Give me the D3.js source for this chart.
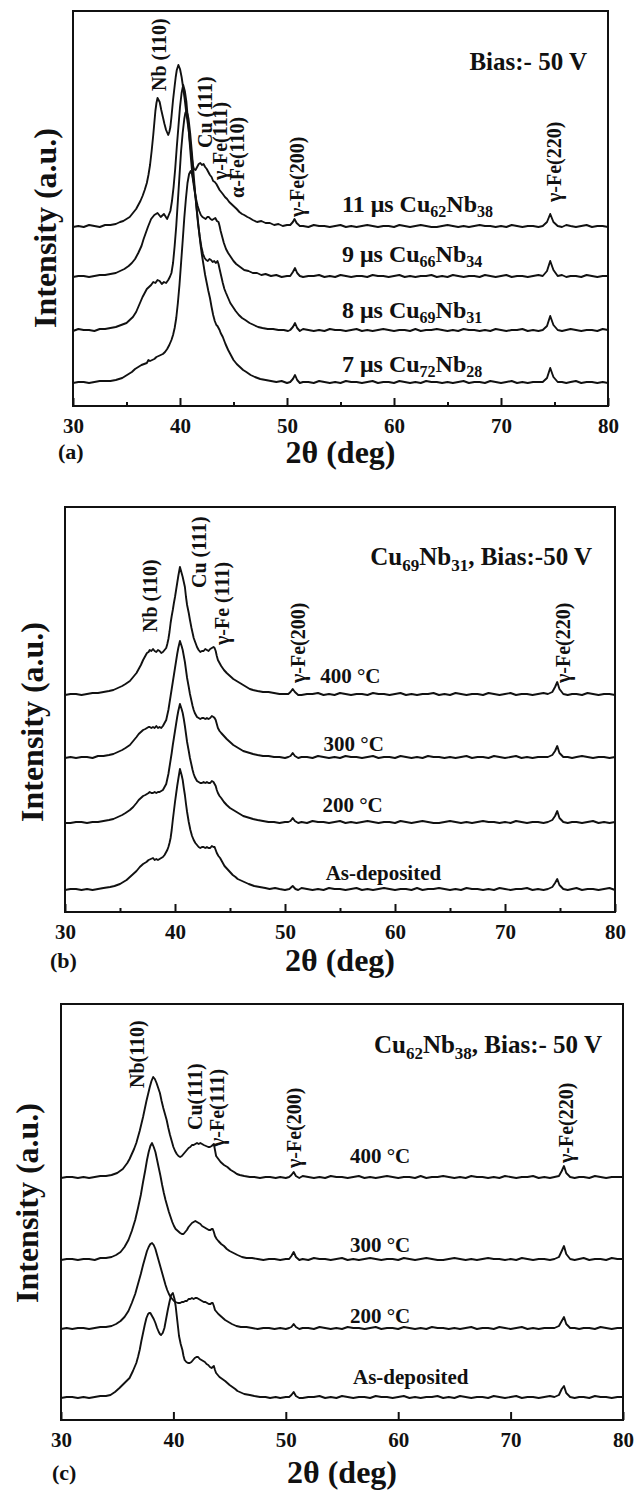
<!DOCTYPE html>
<html>
<head>
<meta charset="utf-8">
<script src="https://cdn.jsdelivr.net/npm/d3@7"></script>
<style>
body { margin: 0; background: #fff; }
svg text { font-family: "Liberation Serif", "Times New Roman", serif; font-weight: bold; fill: #111; }
</style>
</head>
<body>
<svg id="chart" width="638" height="1490"></svg>
<script>
// x axis (2 theta, deg)
var xTicks = [30, 40, 50, 60, 70, 80];
var xMinor = [35, 45, 55, 65, 75];

// ---------- (a) pulse width series, bias -50 V ----------
var aNames = ["11 μs Cu_{62}Nb_{38}", "9 μs Cu_{66}Nb_{34}", "8 μs Cu_{69}Nb_{31}", "7 μs Cu_{72}Nb_{28}"];
var aOffsets = [179, 129, 75, 23];
var a11 = [[30,0],[30.5,1],[31,0],[31.5,2],[32,1],[32.5,0],[33,2],[33.5,2],[34,3],[34.4,5],[34.7,6],[35,8],[35.3,10],[35.6,14],[35.9,18],[36.1,22],[36.3,26],[36.5,31],[36.7,37],[36.9,44],[37.05,52],[37.2,62],[37.35,76],[37.5,92],[37.6,104],[37.7,116],[37.8,124],[37.9,129],[38.0,127],[38.1,125],[38.25,117],[38.4,110],[38.55,103],[38.7,97],[38.9,92],[39.0,95],[39.1,100],[39.2,110],[39.35,127],[39.5,141],[39.6,150],[39.7,157],[39.85,162],[40.0,158],[40.15,150],[40.3,139],[40.45,127],[40.6,113],[40.8,98],[40.95,83],[41.1,70],[41.2,62],[41.3,58],[41.45,57],[41.6,60],[41.75,63],[41.9,64],[42.05,62],[42.2,63],[42.35,60],[42.5,58],[42.65,55],[42.8,52],[42.95,50],[43.1,46],[43.25,45],[43.4,43],[43.55,40],[43.7,37],[43.85,35],[44.0,33],[44.2,30],[44.4,28],[44.6,25],[44.8,23],[45.0,21],[45.3,18],[45.55,15],[45.8,13],[46.0,12],[46.3,10],[46.5,9],[46.8,7],[47.2,5],[47.6,6],[48,4],[48.4,4],[48.8,2],[49.2,3],[49.6,1],[50,2],[50.3,2],[50.55,5],[50.7,8],[50.9,4],[51.2,1],
	[51.5,1],[52,0],[52.5,2],[53,1],[53.5,1],[54,0],[54.5,1],[55,2],[55.5,0],[56,1],[56.5,0],[57,1],[57.5,2],[58,1],[58.5,0],[59,1],[59.5,1],[60,0],[60.5,2],[61,1],[61.5,0],[62,1],[62.5,2],[63,1],[63.5,0],[64,0],[64.5,1],[65,2],[65.5,1],[66,0],[66.5,1],[67,0],[67.5,1],[68,2],[68.5,1],[69,1],[69.5,0],[70,1],[70.5,0],[71,2],[71.5,1],[72,0],[72.5,1],[73,1],[73.5,0],
	[73.9,1],[74.3,5],[74.6,13],[74.9,5],[75.3,1],[75.7,0],[76.1,2],[76.5,1],[77,0],[77.5,1],[78,2],[78.5,0],[79,1],[79.5,1],[80,0]];
var a9 = [[30,0],[30.5,1],[31,1],[31.5,0],[32,1],[32.5,2],[33,2],[33.5,3],[34,4],[34.4,6],[34.8,8],[35.2,11],[35.5,14],[35.8,18],[36.1,24],[36.4,31],[36.6,38],[36.8,44],[37.0,50],[37.3,58],[37.6,62],[37.9,64],[38.2,60],[38.5,63],[38.8,58],[39.1,66],[39.25,76],[39.4,90],[39.55,108],[39.7,130],[39.85,150],[40.0,170],[40.15,184],[40.3,192],[40.45,186],[40.6,175],[40.75,156],[40.9,135],[41.05,115],[41.2,98],[41.35,87],[41.5,78],[41.65,71],[41.8,66],[41.95,62],[42.1,60],[42.25,59],[42.4,58],[42.55,60],[42.7,60],[42.85,58],[43.0,57],[43.15,58],[43.3,59],[43.45,56],[43.6,55],[43.7,51],[43.8,46],[43.95,40],[44.1,34],[44.3,28],[44.5,24],[44.75,20],[45.0,16],[45.25,13],[45.5,11],[45.75,9],[46.0,7],[46.4,6],[46.8,4],[47.2,4],[47.6,2],[48,3],[48.5,1],[49,2],[49.5,0],[50,1],[50.3,1],[50.55,5],[50.75,9],[50.95,4],[51.2,1],
	[51.5,0],[52,1],[52.5,1],[53,2],[53.5,0],[54,1],[54.5,0],[55,2],[55.5,1],[56,0],[56.5,1],[57,1],[57.5,0],[58,2],[58.5,1],[59,1],[59.5,0],[60,1],[60.5,2],[61,0],[61.5,1],[62,0],[62.5,1],[63,1],[63.5,2],[64,0],[64.5,1],[65,0],[65.5,2],[66,1],[66.5,0],[67,1],[67.5,1],[68,0],[68.5,2],[69,1],[69.5,0],[70,1],[70.5,2],[71,0],[71.5,1],[72,1],[72.5,0],[73,1],[73.5,2],
	[73.9,1],[74.3,6],[74.6,16],[74.9,7],[75.3,1],[75.7,2],[76.1,0],[76.5,1],[77,1],[77.5,0],[78,2],[78.5,1],[79,0],[79.5,1],[80,1]];
var a8 = [[30,0],[30.5,2],[31,1],[31.5,1],[32,0],[32.5,2],[33,2],[33.5,3],[34,4],[34.5,6],[35,8],[35.3,11],[35.6,14],[35.9,19],[36.1,24],[36.3,29],[36.5,34],[36.7,38],[36.9,42],[37.1,44],[37.3,46],[37.5,49],[37.7,48],[37.9,51],[38.1,50],[38.3,47],[38.5,49],[38.7,48],[38.9,51],[39.05,54],[39.2,58],[39.35,68],[39.5,85],[39.65,105],[39.8,130],[39.95,155],[40.1,180],[40.25,198],[40.4,212],[40.5,218],[40.6,220],[40.7,217],[40.8,212],[40.95,198],[41.1,180],[41.25,160],[41.4,140],[41.55,122],[41.7,106],[41.85,94],[42.0,84],[42.15,77],[42.3,73],[42.45,71],[42.6,70],[42.75,72],[42.9,71],[43.05,69],[43.2,70],[43.35,68],[43.5,70],[43.6,67],[43.7,62],[43.85,55],[44.0,48],[44.15,42],[44.3,38],[44.5,33],[44.7,28],[44.95,24],[45.2,20],[45.5,16],[45.8,13],[46.1,11],[46.5,8],[46.9,6],[47.3,4],[47.7,3],[48.2,2],[48.7,2],[49.2,1],[49.7,1],[50.1,0],[50.3,1],[50.55,4],[50.75,8],[50.95,3],[51.2,0],
	[51.5,2],[52,1],[52.5,0],[53,1],[53.5,0],[54,2],[54.5,1],[55,1],[55.5,0],[56,1],[56.5,2],[57,0],[57.5,1],[58,0],[58.5,1],[59,2],[59.5,1],[60,0],[60.5,1],[61,1],[61.5,0],[62,2],[62.5,0],[63,1],[63.5,1],[64,2],[64.5,1],[65,0],[65.5,1],[66,0],[66.5,2],[67,1],[67.5,1],[68,0],[68.5,1],[69,0],[69.5,2],[70,1],[70.5,0],[71,1],[71.5,1],[72,2],[72.5,0],[73,1],[73.5,0],
	[73.9,1],[74.3,5],[74.6,15],[74.9,6],[75.3,1],[75.7,0],[76.1,1],[76.5,2],[77,1],[77.5,0],[78,1],[78.5,1],[79,0],[79.5,2],[80,1]];
var a7 = [[30,0],[30.5,1],[31,1],[31.5,0],[32,1],[32.5,2],[33,2],[33.5,2],[34,3],[34.3,4],[34.6,5],[34.9,7],[35.2,9],[35.5,11],[35.8,14],[36.1,16],[36.4,18],[36.65,19],[36.9,20],[37.05,23],[37.2,22],[37.4,23],[37.6,24],[37.8,26],[38.0,27],[38.2,28],[38.4,29],[38.6,31],[38.8,34],[39.0,38],[39.2,43],[39.35,48],[39.5,55],[39.65,65],[39.8,80],[39.95,98],[40.1,120],[40.25,142],[40.4,165],[40.55,184],[40.7,200],[40.85,209],[41.0,212],[41.15,208],[41.3,200],[41.45,186],[41.6,170],[41.75,155],[41.9,140],[42.05,128],[42.2,118],[42.35,108],[42.5,100],[42.65,92],[42.8,85],[42.95,76],[43.1,68],[43.25,62],[43.4,58],[43.5,57],[43.6,55],[43.7,53],[43.8,50],[44.0,46],[44.25,39],[44.5,33],[44.75,28],[45.0,23],[45.3,19],[45.6,16],[45.9,13],[46.2,11],[46.6,8],[47.0,6],[47.5,4],[48.0,3],[48.5,2],[49.0,1],[49.5,2],[50,0],[50.3,1],[50.55,4],[50.75,8],[50.95,3],[51.2,0],
	[51.5,1],[52,1],[52.5,0],[53,2],[53.5,1],[54,0],[54.5,1],[55,0],[55.5,2],[56,1],[56.5,1],[57,0],[57.5,1],[58,2],[58.5,0],[59,1],[59.5,1],[60,0],[60.5,2],[61,1],[61.5,0],[62,1],[62.5,0],[63,2],[63.5,1],[64,1],[64.5,0],[65,1],[65.5,0],[66,1],[66.5,2],[67,0],[67.5,1],[68,1],[68.5,0],[69,2],[69.5,1],[70,0],[70.5,1],[71,2],[71.5,0],[72,1],[72.5,0],[73,1],[73.5,1],
	[73.9,1],[74.3,5],[74.6,15],[74.9,6],[75.3,1],[75.7,1],[76.1,0],[76.5,1],[77,2],[77.5,0],[78,1],[78.5,1],[79,0],[79.5,1],[80,0]];
var aSeries = [a11, a9, a8, a7];
var aPeaks = ["Nb (110)", "Cu (111)", "γ-Fe(111)", "α-Fe(110)", "γ-Fe(200)", "γ-Fe(220)"];
var aTitle = "Bias:- 50 V";

// ---------- (b) Cu69Nb31 annealing ----------
var bNames = ["400 °C", "300 °C", "200 °C", "As-deposited"];
var bOffsets = [217, 154, 89, 22];
var b400 = [[30,0],[30.5,1],[31,1],[31.5,0],[32,1],[32.5,2],[33,2],[33.5,3],[34,4],[34.4,5],[34.8,7],[35.2,9],[35.5,11],[35.9,14],[36.2,18],[36.5,22],[36.7,26],[36.9,30],[37.1,35],[37.3,39],[37.45,42],[37.6,43],[37.7,45],[37.85,44],[38.0,46],[38.15,44],[38.3,43],[38.45,45],[38.6,44],[38.75,42],[38.9,43],[39.05,45],[39.2,47],[39.3,51],[39.4,56],[39.5,63],[39.6,72],[39.7,79],[39.8,85],[39.9,92],[40.0,98],[40.1,105],[40.2,112],[40.3,119],[40.45,128],[40.6,122],[40.7,118],[40.8,113],[40.9,108],[41.0,98],[41.1,90],[41.25,82],[41.36,75],[41.5,67],[41.6,62],[41.7,57],[41.8,54],[41.9,51],[42.0,48],[42.15,45],[42.3,43],[42.45,44],[42.6,44],[42.75,46],[42.9,45],[43.05,44],[43.2,46],[43.35,47],[43.5,48],[43.6,47],[43.7,44],[43.8,39],[43.9,35],[44.05,32],[44.2,29],[44.45,25],[44.7,22],[45.0,19],[45.3,16],[45.6,14],[45.9,12],[46.2,10],[46.5,8],[46.8,6],[47.1,5],[47.5,4],[48,3],[48.5,3],[49,2],[49.5,1],[50,1],[50.3,1],[50.5,3],[50.7,6],[50.9,3],[51.2,0],
	[51.5,0],[52,1],[52.5,1],[53,2],[53.5,0],[54,1],[54.5,0],[55,2],[55.5,1],[56,0],[56.5,1],[57,1],[57.5,0],[58,2],[58.5,1],[59,1],[59.5,0],[60,1],[60.5,2],[61,0],[61.5,1],[62,0],[62.5,1],[63,1],[63.5,2],[64,0],[64.5,1],[65,0],[65.5,2],[66,1],[66.5,0],[67,1],[67.5,1],[68,0],[68.5,2],[69,1],[69.5,0],[70,1],[70.5,2],[71,0],[71.5,1],[72,1],[72.5,0],[73,1],[73.5,2],
	[73.9,1],[74.3,3],[74.55,8],[74.75,13],[74.95,6],[75.3,1],[75.7,0],[76.1,1],[76.5,1],[77,0],[77.5,2],[78,1],[78.5,0],[79,1],[79.5,1],[80,0]];
var b300 = [[30,0],[30.5,1],[31,0],[31.5,1],[32,1],[32.5,0],[33,2],[33.5,2],[34,3],[34.4,4],[34.8,6],[35.2,8],[35.5,10],[35.9,13],[36.2,17],[36.5,21],[36.7,24],[36.9,26],[37.1,28],[37.3,29],[37.45,30],[37.6,31],[37.7,31],[37.85,30],[38.0,31],[38.15,30],[38.3,32],[38.45,30],[38.6,31],[38.75,30],[38.9,32],[39.05,35],[39.2,38],[39.3,43],[39.4,48],[39.5,55],[39.6,62],[39.7,69],[39.8,76],[39.9,83],[40.0,90],[40.1,97],[40.2,104],[40.3,110],[40.45,117],[40.6,112],[40.7,108],[40.8,102],[40.9,96],[41.0,88],[41.1,80],[41.25,71],[41.36,64],[41.5,57],[41.6,52],[41.7,48],[41.8,45],[41.9,43],[42.0,41],[42.15,40],[42.3,39],[42.45,40],[42.6,40],[42.75,39],[42.9,40],[43.05,39],[43.2,40],[43.35,42],[43.5,41],[43.6,40],[43.7,38],[43.8,34],[43.9,30],[44.05,27],[44.2,25],[44.45,22],[44.7,19],[45.0,16],[45.3,13],[45.6,11],[45.9,9],[46.2,7],[46.5,6],[46.8,5],[47.1,4],[47.5,3],[48,2],[48.5,2],[49,1],[49.5,1],[50,0],[50.3,1],[50.5,2],[50.7,5],[50.9,2],[51.2,0],
	[51.5,1],[52,1],[52.5,0],[53,2],[53.5,1],[54,0],[54.5,1],[55,0],[55.5,2],[56,1],[56.5,1],[57,0],[57.5,1],[58,2],[58.5,0],[59,1],[59.5,1],[60,0],[60.5,2],[61,1],[61.5,0],[62,1],[62.5,0],[63,2],[63.5,1],[64,1],[64.5,0],[65,1],[65.5,0],[66,1],[66.5,2],[67,0],[67.5,1],[68,1],[68.5,0],[69,2],[69.5,1],[70,0],[70.5,1],[71,2],[71.5,0],[72,1],[72.5,0],[73,1],[73.5,1],
	[73.9,1],[74.3,3],[74.55,7],[74.75,12],[74.95,5],[75.3,1],[75.7,1],[76.1,0],[76.5,1],[77,2],[77.5,1],[78,0],[78.5,1],[79,1],[79.5,0],[80,1]];
var b200 = [[30,0],[30.5,0],[31,1],[31.5,1],[32,0],[32.5,1],[33,1],[33.5,2],[34,3],[34.4,4],[34.8,6],[35.2,8],[35.5,10],[35.9,13],[36.2,16],[36.5,20],[36.7,23],[36.9,25],[37.1,27],[37.3,28],[37.45,29],[37.6,30],[37.7,31],[37.85,30],[38.0,30],[38.15,31],[38.3,30],[38.45,31],[38.6,31],[38.75,32],[38.9,33],[39.05,36],[39.2,39],[39.3,44],[39.4,49],[39.5,56],[39.6,63],[39.7,70],[39.8,78],[39.9,85],[40.0,92],[40.1,99],[40.2,106],[40.3,112],[40.45,119],[40.6,114],[40.7,110],[40.8,104],[40.9,97],[41.0,89],[41.1,81],[41.25,72],[41.36,65],[41.5,58],[41.6,53],[41.7,49],[41.8,46],[41.9,44],[42.0,42],[42.15,41],[42.3,40],[42.45,40],[42.6,41],[42.75,40],[42.9,41],[43.05,40],[43.2,40],[43.35,42],[43.5,41],[43.6,39],[43.7,37],[43.8,33],[43.9,30],[44.05,27],[44.2,25],[44.45,21],[44.7,18],[45.0,15],[45.3,13],[45.6,11],[45.9,9],[46.2,7],[46.5,6],[46.8,5],[47.1,4],[47.5,3],[48,2],[48.5,1],[49,1],[49.5,0],[50,1],[50.3,1],[50.5,2],[50.7,5],[50.9,2],[51.2,0],
	[51.5,1],[52,0],[52.5,2],[53,1],[53.5,1],[54,0],[54.5,1],[55,2],[55.5,0],[56,1],[56.5,0],[57,1],[57.5,2],[58,1],[58.5,0],[59,1],[59.5,1],[60,0],[60.5,2],[61,1],[61.5,0],[62,1],[62.5,2],[63,1],[63.5,0],[64,0],[64.5,1],[65,2],[65.5,1],[66,0],[66.5,1],[67,0],[67.5,1],[68,2],[68.5,1],[69,1],[69.5,0],[70,1],[70.5,0],[71,2],[71.5,1],[72,0],[72.5,1],[73,1],[73.5,0],
	[73.9,1],[74.3,3],[74.55,7],[74.75,12],[74.95,5],[75.3,1],[75.7,0],[76.1,1],[76.5,1],[77,0],[77.5,1],[78,2],[78.5,0],[79,1],[79.5,0],[80,1]];
var bAs = [[30,0],[30.5,1],[31,1],[31.5,0],[32,1],[32.5,0],[33,1],[33.5,2],[34.1,3],[34.5,4],[35,6],[35.3,8],[35.6,10],[35.9,13],[36.2,16],[36.5,19],[36.8,23],[37.1,26],[37.4,28],[37.6,30],[37.8,31],[38.0,32],[38.15,30],[38.3,31],[38.45,30],[38.6,31],[38.75,32],[38.9,33],[39.05,35],[39.2,38],[39.3,40],[39.4,43],[39.5,47],[39.6,52],[39.7,60],[39.8,70],[39.9,79],[40.0,88],[40.1,96],[40.2,104],[40.3,111],[40.45,121],[40.6,115],[40.7,110],[40.8,102],[40.9,95],[41.0,86],[41.1,78],[41.25,68],[41.4,60],[41.55,54],[41.7,50],[41.85,47],[42.0,45],[42.15,43],[42.3,42],[42.45,43],[42.6,43],[42.75,42],[42.9,43],[43.05,42],[43.2,42],[43.35,44],[43.5,43],[43.6,43],[43.7,40],[43.8,37],[43.95,34],[44.1,32],[44.3,28],[44.5,24],[44.75,21],[45.0,18],[45.25,15],[45.5,13],[45.7,11],[45.9,10],[46.3,8],[46.7,6],[47.2,4],[47.7,3],[48.2,2],[48.6,1],[49.1,2],[49.5,1],[50,0],[50.4,1],[50.7,4],[50.95,1],[51.2,0],
	[51.5,2],[52,1],[52.5,0],[53,1],[53.5,0],[54,2],[54.5,1],[55,1],[55.5,0],[56,1],[56.5,2],[57,0],[57.5,1],[58,0],[58.5,1],[59,2],[59.5,1],[60,0],[60.5,1],[61,1],[61.5,0],[62,2],[62.5,0],[63,1],[63.5,1],[64,2],[64.5,1],[65,0],[65.5,1],[66,0],[66.5,2],[67,1],[67.5,1],[68,0],[68.5,1],[69,0],[69.5,2],[70,1],[70.5,0],[71,1],[71.5,1],[72,2],[72.5,0],[73,1],[73.5,0],
	[73.9,1],[74.3,3],[74.55,7],[74.75,11],[74.95,5],[75.3,1],[75.7,0],[76.1,1],[76.5,2],[77,0],[77.5,1],[78,1],[78.5,0],[79,1],[79.5,2],[80,0]];
var bSeries = [b400, b300, b200, bAs];
var bPeaks = ["Nb (110)", "Cu (111)", "γ-Fe (111)", "γ-Fe(200)", "γ-Fe(220)"];
var bTitle = "Cu_{69}Nb_{31}, Bias:-50 V";

// ---------- (c) Cu62Nb38 annealing ----------
var cNames = ["400 °C", "300 °C", "200 °C", "As-deposited"];
var cOffsets = [242, 160, 91, 22];
var c400 = [[30,0],[30.5,1],[31,1],[31.5,0],[32,1],[32.5,0],[33,1],[33.5,2],[34,2],[34.5,3],[35.0,5],[35.25,7],[35.5,9],[35.7,12],[35.9,15],[36.1,19],[36.3,24],[36.5,29],[36.7,35],[36.85,41],[37.0,47],[37.15,54],[37.3,61],[37.45,69],[37.6,77],[37.75,84],[37.9,91],[38.05,97],[38.2,101],[38.35,99],[38.5,95],[38.65,90],[38.8,85],[38.95,77],[39.1,70],[39.25,64],[39.4,58],[39.55,50],[39.7,43],[39.85,37],[40.0,31],[40.15,27],[40.3,24],[40.45,22],[40.6,21],[40.75,22],[40.9,24],[41.05,26],[41.2,28],[41.35,30],[41.5,31],[41.65,33],[41.8,33],[41.95,34],[42.1,35],[42.25,34],[42.4,35],[42.55,34],[42.7,33],[42.9,32],[43.1,31],[43.25,31],[43.4,32],[43.5,33],[43.6,34],[43.7,28],[43.8,22],[44.0,19],[44.2,16],[44.5,13],[44.8,11],[45.1,8],[45.4,6],[45.65,4],[45.9,3],[46.3,2],[46.8,1],[47.2,1],[47.7,0],[48.2,1],[48.6,1],[49.1,0],[49.5,1],[50,0],[50.3,1],[50.5,3],[50.7,6],[50.9,2],[51.2,0],
	[51.5,2],[52,1],[52.5,0],[53,1],[53.5,0],[54,2],[54.5,1],[55,1],[55.5,0],[56,1],[56.5,2],[57,0],[57.5,1],[58,0],[58.5,1],[59,2],[59.5,1],[60,0],[60.5,1],[61,1],[61.5,0],[62,2],[62.5,0],[63,1],[63.5,1],[64,2],[64.5,1],[65,0],[65.5,1],[66,0],[66.5,2],[67,1],[67.5,1],[68,0],[68.5,1],[69,0],[69.5,2],[70,1],[70.5,0],[71,1],[71.5,1],[72,2],[72.5,0],[73,1],[73.5,0],
	[73.9,1],[74.3,2],[74.55,7],[74.75,12],[74.95,5],[75.3,1],[75.7,0],[76.1,1],[76.5,1],[77,0],[77.5,2],[78,1],[78.5,0],[79,1],[79.5,1],[80,1]];
var c300 = [[30,0],[30.5,1],[31,1],[31.5,0],[32,1],[32.5,1],[33,0],[33.5,2],[34,2],[34.5,3],[34.9,5],[35.3,8],[35.65,13],[36.0,20],[36.3,29],[36.6,40],[36.85,52],[37.1,65],[37.3,78],[37.5,90],[37.65,100],[37.8,108],[37.95,114],[38.1,117],[38.25,113],[38.4,108],[38.55,100],[38.7,92],[38.85,84],[39.0,75],[39.15,67],[39.3,60],[39.45,54],[39.6,48],[39.75,43],[39.9,38],[40.05,34],[40.2,31],[40.4,29],[40.6,27],[40.75,26],[40.9,26],[41.05,28],[41.2,30],[41.35,33],[41.5,35],[41.65,37],[41.8,38],[41.95,39],[42.1,38],[42.25,37],[42.4,36],[42.55,34],[42.7,33],[42.85,32],[43.0,31],[43.15,30],[43.3,30],[43.4,31],[43.5,31],[43.6,28],[43.7,24],[43.85,21],[44.0,19],[44.25,16],[44.5,14],[44.75,11],[45.0,9],[45.35,7],[45.7,5],[46.1,3],[46.5,2],[47,2],[47.5,1],[48,0],[48.5,1],[49,1],[49.5,0],[50,1],[50.3,1],[50.5,4],[50.7,8],[50.9,3],[51.2,0],
	[51.5,1],[52,0],[52.5,2],[53,1],[53.5,1],[54,0],[54.5,1],[55,2],[55.5,0],[56,1],[56.5,0],[57,1],[57.5,2],[58,1],[58.5,0],[59,1],[59.5,1],[60,0],[60.5,2],[61,1],[61.5,0],[62,1],[62.5,2],[63,1],[63.5,0],[64,0],[64.5,1],[65,2],[65.5,1],[66,0],[66.5,1],[67,0],[67.5,1],[68,2],[68.5,1],[69,1],[69.5,0],[70,1],[70.5,0],[71,2],[71.5,1],[72,0],[72.5,1],[73,1],[73.5,0],
	[73.9,1],[74.3,3],[74.55,9],[74.75,14],[74.95,6],[75.3,1],[75.7,0],[76.1,1],[76.5,2],[77,0],[77.5,1],[78,1],[78.5,0],[79,2],[79.5,1],[80,1]];
var c200 = [[30,0],[30.5,1],[31,0],[31.5,1],[32,1],[32.5,0],[33,1],[33.5,2],[34,2],[34.5,3],[34.9,5],[35.3,8],[35.65,12],[36.0,18],[36.3,26],[36.6,35],[36.85,45],[37.1,55],[37.3,64],[37.5,72],[37.65,78],[37.8,82],[37.95,85],[38.1,86],[38.25,84],[38.4,80],[38.55,74],[38.7,68],[38.85,62],[39.0,56],[39.15,50],[39.3,44],[39.45,39],[39.6,35],[39.75,32],[39.9,30],[40.05,28],[40.2,27],[40.4,26],[40.6,26],[40.75,27],[40.9,27],[41.05,28],[41.2,28],[41.35,30],[41.5,30],[41.65,31],[41.8,30],[41.95,31],[42.1,31],[42.25,30],[42.4,29],[42.55,28],[42.7,27],[42.85,27],[43.0,26],[43.15,25],[43.3,25],[43.4,26],[43.5,26],[43.6,23],[43.7,19],[43.85,17],[44.0,15],[44.3,12],[44.6,9],[44.9,7],[45.2,5],[45.6,3],[46.0,2],[46.5,2],[47,1],[47.5,0],[48,1],[48.5,1],[49,0],[49.5,1],[50,0],[50.3,1],[50.5,2],[50.7,5],[50.9,2],[51.2,0],
	[51.5,1],[52,1],[52.5,0],[53,2],[53.5,1],[54,0],[54.5,1],[55,0],[55.5,2],[56,1],[56.5,1],[57,0],[57.5,1],[58,2],[58.5,0],[59,1],[59.5,1],[60,0],[60.5,2],[61,1],[61.5,0],[62,1],[62.5,0],[63,2],[63.5,1],[64,1],[64.5,0],[65,1],[65.5,0],[66,1],[66.5,2],[67,0],[67.5,1],[68,1],[68.5,0],[69,2],[69.5,1],[70,0],[70.5,1],[71,2],[71.5,0],[72,1],[72.5,0],[73,1],[73.5,1],
	[73.9,1],[74.3,3],[74.55,8],[74.75,12],[74.95,5],[75.3,1],[75.7,1],[76.1,0],[76.5,1],[77,1],[77.5,0],[78,2],[78.5,1],[79,0],[79.5,1],[80,1]];
var cAs = [[30,0],[30.5,1],[31,1],[31.5,0],[32,1],[32.5,0],[33,1],[33.5,2],[34,2],[34.4,3],[34.8,6],[35.2,10],[35.65,15],[36.1,20],[36.4,27],[36.7,35],[36.85,41],[37.0,48],[37.15,57],[37.3,65],[37.45,73],[37.6,80],[37.75,84],[37.85,85],[37.95,85],[38.1,82],[38.25,79],[38.4,75],[38.55,70],[38.7,66],[38.8,64],[38.9,63],[39.05,65],[39.2,70],[39.35,79],[39.5,88],[39.65,96],[39.8,103],[39.95,105],[40.1,99],[40.2,92],[40.35,77],[40.5,62],[40.65,54],[40.8,48],[40.9,42],[41.0,38],[41.15,36],[41.3,35],[41.45,35],[41.6,36],[41.75,38],[41.9,40],[42.05,41],[42.2,41],[42.35,39],[42.5,38],[42.65,37],[42.8,36],[42.95,34],[43.1,33],[43.25,31],[43.4,30],[43.5,31],[43.6,32],[43.7,28],[43.8,25],[43.95,23],[44.1,21],[44.35,19],[44.6,17],[44.8,15],[45.0,13],[45.25,11],[45.5,9],[45.7,7],[45.9,6],[46.3,4],[46.8,3],[47.2,2],[47.7,1],[48.2,1],[48.6,0],[49.1,1],[49.5,0],[50,1],[50.3,1],[50.5,3],[50.7,6],[50.9,2],[51.2,0],
	[51.5,0],[52,1],[52.5,1],[53,2],[53.5,0],[54,1],[54.5,0],[55,2],[55.5,1],[56,0],[56.5,1],[57,1],[57.5,0],[58,2],[58.5,1],[59,1],[59.5,0],[60,1],[60.5,2],[61,0],[61.5,1],[62,0],[62.5,1],[63,1],[63.5,2],[64,0],[64.5,1],[65,0],[65.5,2],[66,1],[66.5,0],[67,1],[67.5,1],[68,0],[68.5,2],[69,1],[69.5,0],[70,1],[70.5,2],[71,0],[71.5,1],[72,1],[72.5,0],[73,1],[73.5,2],
	[73.9,1],[74.3,3],[74.55,9],[74.75,12],[74.95,5],[75.3,1],[75.7,0],[76.1,1],[76.5,1],[77,0],[77.5,2],[78,1],[78.5,1],[79,0],[79.5,1],[80,1]];
var cSeries = [c400, c300, c200, cAs];
var cPeaks = ["Nb(110)", "Cu(111)", "γ-Fe(111)", "γ-Fe(200)", "γ-Fe(220)"];
var cTitle = "Cu_{62}Nb_{38}, Bias:- 50 V";

var yTitle = "Intensity (a.u.)";
var xTitle = "2θ (deg)";

// ---------- layout ----------
var panels = [
	{letter: "(a)", names: aNames, offsets: aOffsets, series: aSeries, peaks: aPeaks, title: aTitle,
	 left: 73, right: 608, top: 11, bottom: 406, minor: true, nameSize: 24, nameSub: 16,
	 yTitleX: 45, yTitleTop: 128, letterX: 58, letterY: 459, xTitleY: 463,
	 titlePos: [78.04, 336],
	 peakPos: [[38.04, 315], [42.29, 258], [43.74, 226], [45.37, 208], [50.89, 189], [74.91, 204]],
	 namePos: [[55.14, 194], [55.14, 144], [55.14, 88], [55.14, 34]]},
	{letter: "(b)", names: bNames, offsets: bOffsets, series: bSeries, peaks: bPeaks, title: bTitle,
	 left: 65, right: 615, top: 507, bottom: 912, minor: true, nameSize: 21, nameSub: 14,
	 yTitleX: 32, yTitleTop: 622, letterX: 50, letterY: 968, xTitleY: 971,
	 titlePos: [77.91, 347],
	 peakPos: [[37.73, 280], [42.18, 324], [44.23, 267], [51.14, 229], [75.23, 229]],
	 namePos: [[53.2, 229], [53.5, 161], [53.4, 100], [53.7, 32]]},
	{letter: "(c)", names: cNames, offsets: cOffsets, series: cSeries, peaks: cPeaks, title: cTitle,
	 left: 61, right: 623, top: 1004, bottom: 1420, minor: false, nameSize: 21, nameSub: 14,
	 yTitleX: 27, yTitleTop: 1103, letterX: 52, letterY: 1480, xTitleY: 1483,
	 titlePos: [78.13, 367],
	 peakPos: [[36.72, 332], [41.92, 290], [43.92, 273], [50.77, 252], [74.97, 257]],
	 namePos: [[55.71, 257], [55.71, 168], [55.71, 97], [55.98, 36]]}
];

var ink = "#111";
var svg = d3.select("#chart");

// text with _{sub} markup
function richText(t, str, subSize, shift) {
	var parts = str.split(/_\{([^}]*)\}/);
	var down = false;
	parts.forEach(function (s, i) {
		if (s === "") return;
		var ts = t.append("tspan").text(s);
		if (i % 2 == 1) {
			ts.attr("font-size", subSize).attr("dy", shift);
			down = true;
		} else if (down) {
			ts.attr("dy", -shift);
			down = false;
		}
	});
}

panels.forEach(function (p) {
	var x = d3.scaleLinear().domain([30, 80]).range([p.left, p.right]);
	var y = d3.scaleLinear().domain([0, p.bottom - p.top]).range([p.bottom, p.top]);
	var g = svg.append("g");

	// frame
	g.append("rect")
		.attr("x", p.left).attr("y", p.top)
		.attr("width", p.right - p.left).attr("height", p.bottom - p.top)
		.attr("fill", "none").attr("stroke", ink).attr("stroke-width", 2);

	// ticks (inward)
	var ax = g.append("g")
		.attr("transform", "translate(0," + p.bottom + ")")
		.call(d3.axisBottom(x).tickValues(xTicks).tickSizeInner(-8).tickSizeOuter(0).tickPadding(12));
	ax.select(".domain").remove();
	ax.attr("font-family", null);
	ax.selectAll("line").attr("stroke", ink).attr("stroke-width", 2);
	ax.selectAll("text").attr("font-size", 21).style("fill", ink);
	if (p.minor) {
		var mx = g.append("g")
			.attr("transform", "translate(0," + p.bottom + ")")
			.call(d3.axisBottom(x).tickValues(xMinor).tickSizeInner(-4).tickSizeOuter(0).tickFormat(""));
		mx.select(".domain").remove();
		mx.selectAll("line").attr("stroke", ink).attr("stroke-width", 2);
	}

	// patterns
	p.series.forEach(function (s, i) {
		var line = d3.line()
			.x(function (d) { return x(d[0]); })
			.y(function (d) { return y(d[1] + p.offsets[i]); });
		g.append("path")
			.datum(s)
			.attr("fill", "none")
			.attr("stroke", ink)
			.attr("stroke-width", 1.9)
			.attr("stroke-linejoin", "round")
			.attr("d", line);
	});

	// sample labels
	p.names.forEach(function (n, i) {
		var t = g.append("text")
			.attr("x", x(p.namePos[i][0]))
			.attr("y", y(p.namePos[i][1]))
			.attr("font-size", p.nameSize);
		richText(t, n, p.nameSub, 5);
	});

	// peak labels (vertical)
	p.peaks.forEach(function (n, i) {
		g.append("text")
			.attr("transform", "translate(" + x(p.peakPos[i][0]) + "," + y(p.peakPos[i][1]) + ") rotate(-90)")
			.attr("text-anchor", "start")
			.attr("dominant-baseline", "central")
			.attr("font-size", 20)
			.text(n);
	});

	// condition title
	var tt = g.append("text")
		.attr("x", x(p.titlePos[0]))
		.attr("y", y(p.titlePos[1]))
		.attr("text-anchor", "end")
		.attr("font-size", 25);
	richText(tt, p.title, 17, 6);

	// axis titles
	g.append("text")
		.attr("transform", "translate(" + p.yTitleX + "," + p.yTitleTop + ") rotate(-90)")
		.attr("text-anchor", "end")
		.attr("dominant-baseline", "central")
		.attr("font-size", 32)
		.text(yTitle);
	g.append("text")
		.attr("x", (p.left + p.right) / 2)
		.attr("y", p.xTitleY)
		.attr("text-anchor", "middle")
		.attr("font-size", 32)
		.text(xTitle);
	g.append("text")
		.attr("x", p.letterX)
		.attr("y", p.letterY)
		.attr("font-size", 22)
		.text(p.letter);
});
</script>
</body>
</html>
